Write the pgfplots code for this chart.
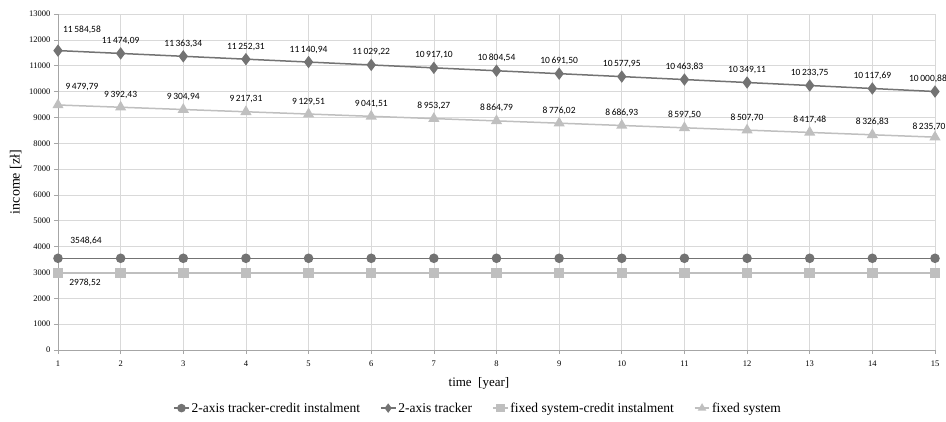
\documentclass[border=0pt]{standalone}
\usepackage{pgfplots}
\pgfplotsset{compat=1.18}
\usepackage{pgfplotstable}
\usepackage{fontspec}
\setmainfont{Liberation Serif}
\newfontfamily\calfont{Carlito}
\definecolor{dk}{HTML}{737373}
\definecolor{lt}{HTML}{BFBFBF}
\definecolor{gridc}{HTML}{D9D9D9}
\definecolor{axc}{HTML}{A6A6A6}

\pgfplotstableread{
x y dx dy
1 11584.58 24 8
2 11474.09 0 0
3 11363.34 0 0
4 11252.31 0 0
5 11140.94 0 0
6 11029.22 0 0
7 10917.10 0 0
8 10804.54 0 0
9 10691.50 0 0
10 10577.95 0 0
11 10463.83 0 0
12 10349.11 0 0
13 10233.75 0 0
14 10117.69 0 0
15 10000.88 -7 0
}\tracker

\pgfplotstableread{
x y dx dy
1 9479.79 24 6
2 9392.43 0 0
3 9304.94 0 0
4 9217.31 0 0
5 9129.51 0 0
6 9041.51 0 0
7 8953.27 0 0
8 8864.79 0 0
9 8776.02 0 0
10 8686.93 0 0
11 8597.50 0 0
12 8507.70 0 0
13 8417.48 0 0
14 8326.83 0 0
15 8235.70 -6 -2
}\fixed

\pgfplotstableread{
x y
1 3548.64
2 3548.64
3 3548.64
4 3548.64
5 3548.64
6 3548.64
7 3548.64
8 3548.64
9 3548.64
10 3548.64
11 3548.64
12 3548.64
13 3548.64
14 3548.64
15 3548.64
}\trackercredit

\pgfplotstableread{
x y
1 2978.52
2 2978.52
3 2978.52
4 2978.52
5 2978.52
6 2978.52
7 2978.52
8 2978.52
9 2978.52
10 2978.52
11 2978.52
12 2978.52
13 2978.52
14 2978.52
15 2978.52
}\fixedcredit

\begin{document}
\begin{tikzpicture}
\useasboundingbox (-58pt,-71pt) rectangle (888pt,350pt);
\begin{axis}[
  at={(0pt,0pt)}, anchor=south west,
  scale only axis, width=877pt, height=336pt,
  xmin=1, xmax=15, ymin=0, ymax=13000,
  xtick={1,...,15}, ytick={0,1000,...,13000},
  axis lines*=left,
  grid=major, grid style={gridc, line width=0.6pt},
  axis line style={axc, line width=0.8pt},
  tick style={axc, line width=0.6pt},
  tick align=outside, major tick length=4pt,
  ticklabel style={font=\fontsize{8.5}{10}\selectfont, text=black},
  xticklabel style={yshift=-3pt},
  /pgf/number format/assume math mode=true,
  scaled y ticks=false,
  yticklabel style={/pgf/number format/1000 sep={}},
  xlabel={time\ \ [year]},
  ylabel={income [zł]},
  xlabel style={font=\fontsize{13}{15}\selectfont, at={(axis description cs:0.48,0)}, anchor=north, yshift=-24pt},
  ylabel style={font=\fontsize{14}{16}\selectfont, at={(axis description cs:0,0.5)}, anchor=south, yshift=33pt},
  legend columns=4,
  legend style={draw=none, fill=none, at={(0.479,-0.173)}, anchor=center,
    font=\fontsize{13.5}{15}\selectfont,
    /tikz/every even column/.append style={column sep=18pt},
    inner sep=0pt},
  legend cell align=left,
  legend image code/.code={\draw[mark repeat=2, mark phase=2, mark size=3.5pt] plot coordinates {(0cm,0cm) (0.26cm,0cm) (0.52cm,0cm)};},
  clip=false,
]
% 2-axis tracker-credit instalment
\addplot[dk, line width=1.5pt, mark=*, mark size=4pt, mark options={solid, fill=dk}]
  table[x=x, y=y] {\trackercredit};
\addlegendentry{2-axis tracker-credit instalment}
% 2-axis tracker
\addplot[dk, line width=1.5pt, mark=diamond*, mark size=5pt, mark options={solid, fill=dk},
  point meta=y, nodes near coords={\pgfmathprintnumber[fixed, fixed zerofill, precision=2, use comma, 1000 sep={\,}]{\pgfplotspointmeta}},
  visualization depends on={\thisrow{dx} \as \mydx},
  visualization depends on={\thisrow{dy} \as \mydy},
  every node near coord/.append style={font=\calfont\fontsize{9.5}{11}\selectfont, text=black, anchor=south, inner sep=0pt, xshift=\mydx pt, yshift=\mydy pt + 8pt}]
  table[x=x, y=y] {\tracker};
\addlegendentry{2-axis tracker}
% fixed system-credit instalment
\addplot[lt, line width=1.5pt, mark=square*, mark size=4.5pt, mark options={solid, fill=lt}]
  table[x=x, y=y] {\fixedcredit};
\addlegendentry{fixed system-credit instalment}
% fixed system
\addplot[lt, line width=1.5pt, mark=triangle*, mark size=5pt, mark options={solid, fill=lt},
  point meta=y, nodes near coords={\pgfmathprintnumber[fixed, fixed zerofill, precision=2, use comma, 1000 sep={\,}]{\pgfplotspointmeta}},
  visualization depends on={\thisrow{dx} \as \mydx},
  visualization depends on={\thisrow{dy} \as \mydy},
  every node near coord/.append style={font=\calfont\fontsize{9.5}{11}\selectfont, text=black, anchor=south, inner sep=0pt, xshift=\mydx pt, yshift=\mydy pt + 8pt}]
  table[x=x, y=y] {\fixed};
\addlegendentry{fixed system}
% labels for the constant series (first point only)
\addplot[draw=none, mark=none, forget plot, point meta=y,
  nodes near coords={\pgfmathprintnumber[fixed, fixed zerofill, precision=2, use comma, 1000 sep={}]{\pgfplotspointmeta}},
  every node near coord/.append style={font=\calfont\fontsize{9.5}{11}\selectfont, text=black, anchor=center, inner sep=0pt, xshift=28pt, yshift=17pt}]
  coordinates {(1,3548.64)};
\addplot[draw=none, mark=none, forget plot, point meta=y,
  nodes near coords={\pgfmathprintnumber[fixed, fixed zerofill, precision=2, use comma, 1000 sep={}]{\pgfplotspointmeta}},
  every node near coord/.append style={font=\calfont\fontsize{9.5}{11}\selectfont, text=black, anchor=center, inner sep=0pt, xshift=27pt, yshift=-10pt}]
  coordinates {(1,2978.52)};
\end{axis}
\end{tikzpicture}
\end{document}
